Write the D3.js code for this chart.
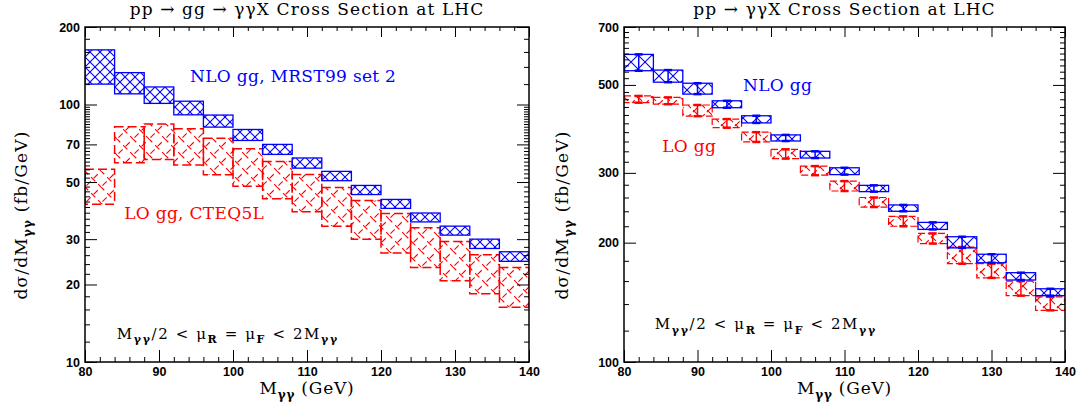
<!DOCTYPE html>
<html>
<head>
<meta charset="UTF-8" />
<title>pp -> gamma gamma X cross section</title>
<script src="https://cdnjs.cloudflare.com/ajax/libs/d3/7.8.5/d3.min.js"></script>
<style>
  body { margin: 0; background: #fff; }
  svg text { font-family: "DejaVu Serif", serif; }
  .tick text { font-family: "Liberation Sans", Arial, sans-serif; font-weight: bold; font-size: 12.5px; fill: #000; }
  .tick line { stroke: #000; stroke-width: 1; }
</style>
</head>
<body>
<svg id="chart" width="1076" height="406"></svg>
<script>
// bin edges (GeV)
const binEdges = [80, 84, 88, 92, 96, 100, 104, 108, 112, 116, 120, 124, 128, 132, 136, 140];

// left panel: pp -> gg -> yyX, scale band (fb/GeV)
const nloHiLeft = [163, 133, 117, 103, 91, 80, 70, 62, 55, 48.5, 42.8, 37.9, 33.7, 30.0, 26.8];
const nloLoLeft = [120, 110, 101, 91.2, 81.7, 72.5, 64, 56.6, 50.6, 44.7, 39.5, 35.0, 31.1, 27.6, 24.6];
const loHiLeft  = [56, 82, 84, 80.5, 74, 67.3, 60.1, 53.5, 47.6, 42.4, 37.7, 33.2, 29.4, 26.1, 23.3];
const loLoLeft  = [41, 59.4, 61.2, 58.2, 53.4, 48.1, 43.1, 38.3, 33.7, 30.0, 26.5, 23.3, 20.7, 18.4, 16.3];

// right panel: pp -> yyX
const nloHiRight = [597, 545, 505, 456, 418, 374, 340, 309, 279, 249, 225, 207, 187, 168, 153];
const nloLoRight = [543, 508, 474, 438, 401, 361, 327, 297, 269, 240, 216, 194, 178, 161, 147];
const loHiRight  = [469, 465, 445, 410, 380, 344, 312, 286, 260, 233, 211, 195, 177, 160, 146];
const loLoRight  = [451, 447, 417, 390, 359, 326, 296, 270, 246, 220, 199, 177, 163, 147, 135];

// ticks
const xMajor = [80, 90, 100, 110, 120, 130, 140];
const xMinor = [82, 84, 86, 88, 92, 94, 96, 98, 102, 104, 106, 108, 112, 114, 116, 118,
                122, 124, 126, 128, 132, 134, 136, 138];
const yMajorLeft = [10, 20, 30, 50, 70, 100, 200];
const yMinorLeft = [12, 14, 16, 18, 22, 24, 26, 28, 32, 34, 36, 38, 40, 42, 44, 46, 48,
                    52, 54, 56, 58, 60, 62, 64, 66, 68, 72, 74, 76, 78, 80, 82, 84, 86, 88,
                    90, 92, 94, 96, 98, 120, 140, 160, 180];
const yMajorRight = [100, 200, 300, 500, 700];
const yMinorRight = [120, 140, 160, 180, 220, 240, 260, 280, 320, 340, 360, 380, 400, 420,
                     440, 460, 480, 520, 540, 560, 580, 600, 620, 640, 660, 680];

const blue = "#0000ff", red = "#ff0000";
const svg = d3.select("#chart");
const defs = svg.append("defs");

// hatch patterns
function hatch(id, size, color, dash) {
  const p = defs.append("pattern").attr("id", id)
    .attr("patternUnits", "userSpaceOnUse")
    .attr("width", size).attr("height", size);
  p.append("path")
    .attr("d", `M-1,-1L${size + 1},${size + 1}`)
    .attr("stroke", color).attr("stroke-width", 1.1)
    .attr("stroke-dasharray", dash || null);
  p.append("path")
    .attr("d", `M${size + 1},-1L-1,${size + 1}`)
    .attr("stroke", color).attr("stroke-width", 1.1)
    .attr("stroke-dasharray", dash || null)
    .attr("stroke-dashoffset", dash ? 4 : null);
}
hatch("blueL", 10, blue);
hatch("redL", 16, red, "6,4");
hatch("blueR", 14, blue);
hatch("redR", 14, red, "7,3");

// rich text with subscripts: parts = [[str, isSub]]
function rich(sel, parts, size, subSize) {
  let shifted = false;
  parts.forEach(([s, sub]) => {
    const t = sel.append("tspan").text(s);
    if (sub && !shifted) { t.attr("dy", size * 0.3).attr("font-size", subSize).attr("font-weight", "bold"); shifted = true; }
    else if (sub) { t.attr("font-size", subSize).attr("font-weight", "bold"); }
    else if (!sub && shifted) { t.attr("dy", -size * 0.3); shifted = false; }
  });
  return sel;
}

const formulaParts = [["M", 0], ["γγ", 1], ["/2 < μ", 0], ["R", 1], [" = μ", 0], ["F", 1], [" < 2M", 0], ["γγ", 1]];

function panel(o) {
  const H = 335;
  const g = svg.append("g").attr("transform", `translate(${o.left},27)`);
  const x = d3.scaleLinear().domain([80, 140]).range([0, o.width]);
  const y = d3.scaleLog().domain(o.yDomain).range([H, 0]);

  defs.append("clipPath").attr("id", o.id + "clip")
    .append("rect").attr("width", o.width).attr("height", H);
  const plot = g.append("g").attr("clip-path", `url(#${o.id}clip)`);

  o.bands.forEach(b => {
    const idx = d3.range(b.hi.length);
    plot.append("g").selectAll("rect").data(idx).join("rect")
      .attr("x", i => x(binEdges[i]))
      .attr("width", i => x(binEdges[i + 1]) - x(binEdges[i]))
      .attr("y", i => y(b.hi[i]))
      .attr("height", i => y(b.lo[i]) - y(b.hi[i]))
      .attr("fill", `url(#${b.pattern})`)
      .attr("stroke", b.color).attr("stroke-width", b.sw || 1.3)
      .attr("stroke-dasharray", b.dash || null);
    if (b.bars) {
      const eb = plot.append("g").attr("stroke", b.color);
      idx.forEach(i => {
        const cx = x((binEdges[i] + binEdges[i + 1]) / 2);
        eb.append("line").attr("x1", cx).attr("x2", cx)
          .attr("y1", y(b.hi[i])).attr("y2", y(b.lo[i])).attr("stroke-width", 1.5);
        [b.hi[i], b.lo[i]].forEach(v => {
          eb.append("line").attr("x1", cx - 4).attr("x2", cx + 4)
            .attr("y1", y(v)).attr("y2", y(v)).attr("stroke-width", 2.5);
        });
      });
    }
  });

  // axes: ticks inward on all four sides
  const ax = (axis, vals, size, fmt) => axis.tickValues(vals).tickSize(-size).tickSizeOuter(0)
    .tickPadding(5).tickFormat(fmt);
  g.append("g").attr("transform", `translate(0,${H})`)
    .call(ax(d3.axisBottom(x), xMajor, 12, d3.format("d")));
  g.append("g").attr("transform", `translate(0,${H})`)
    .call(ax(d3.axisBottom(x), xMinor, 5, () => ""));
  g.append("g").call(ax(d3.axisTop(x), xMajor, 10, () => ""));
  g.append("g").call(ax(d3.axisTop(x), xMinor, 4, () => ""));
  g.append("g").call(ax(d3.axisLeft(y), o.yMajor, 12, d3.format("d")));
  g.append("g").call(ax(d3.axisLeft(y), o.yMinor, 5, () => ""));
  g.append("g").attr("transform", `translate(${o.width},0)`)
    .call(ax(d3.axisRight(y), o.yMajor, 12, () => ""));
  g.append("g").attr("transform", `translate(${o.width},0)`)
    .call(ax(d3.axisRight(y), o.yMinor, 5, () => ""));
  g.selectAll(".domain").remove();

  g.append("rect").attr("width", o.width).attr("height", H)
    .attr("fill", "none").attr("stroke", "#000").attr("stroke-width", 1.5);

  // title
  g.append("text").attr("x", o.width / 2).attr("y", -12)
    .attr("text-anchor", "middle").attr("font-size", 17)
    .attr("letter-spacing", 1.1).text(o.title);

  // axis titles
  rich(g.append("text").attr("x", o.width / 2).attr("y", 367)
    .attr("text-anchor", "middle").attr("font-size", 17).attr("letter-spacing", 0.8),
    [["M", 0], ["γγ", 1], [" (GeV)", 0]], 17, 12);
  rich(g.append("text").attr("transform", `translate(${o.yLabelX},188) rotate(-90)`)
    .attr("text-anchor", "middle").attr("font-size", 17).attr("letter-spacing", 1.2),
    [["dσ/dM", 0], ["γγ", 1], [" (fb/GeV)", 0]], 17, 12);

  // annotations
  o.notes.forEach(n => {
    const t = g.append("text").attr("x", x(n.x)).attr("y", y(n.y))
      .attr("font-size", n.size).attr("fill", n.color)
      .attr("letter-spacing", n.ls || 0);
    if (n.parts) rich(t, n.parts, n.size, 11); else t.text(n.text);
  });
}

panel({
  id: "l", left: 85, width: 444, yDomain: [10, 200], yLabelX: -58,
  yMajor: yMajorLeft, yMinor: yMinorLeft,
  title: "pp → gg → γγX Cross Section at LHC",
  bands: [
    { hi: loHiLeft, lo: loLoLeft, pattern: "redL", color: red, dash: "9,4", sw: 1.5 },
    { hi: nloHiLeft, lo: nloLoLeft, pattern: "blueL", color: blue }
  ],
  notes: [
    { x: 94.2, y: 122.7, text: "NLO gg, MRST99 set 2", size: 17, color: blue, ls: 0.3 },
    { x: 85.3, y: 35.9, text: "LO gg, CTEQ5L", size: 17, color: red, ls: 0.3 },
    { x: 84.3, y: 12.3, parts: formulaParts, size: 15, color: "#000", ls: 1.6 }
  ]
});

panel({
  id: "r", left: 624, width: 441, yDomain: [100, 700], yLabelX: -56,
  yMajor: yMajorRight, yMinor: yMinorRight,
  title: "pp → γγX Cross Section at LHC",
  bands: [
    { hi: loHiRight, lo: loLoRight, pattern: "redR", color: red, dash: "7,3", sw: 1.2, bars: true },
    { hi: nloHiRight, lo: nloLoRight, pattern: "blueR", color: blue, bars: true }
  ],
  notes: [
    { x: 96.2, y: 483, text: "NLO gg", size: 17, color: blue, ls: 0.3 },
    { x: 85.2, y: 338, text: "LO gg", size: 17, color: red, ls: 0.3 },
    { x: 84.2, y: 121, parts: formulaParts, size: 15, color: "#000", ls: 1.6 }
  ]
});
</script>
</body>
</html>
